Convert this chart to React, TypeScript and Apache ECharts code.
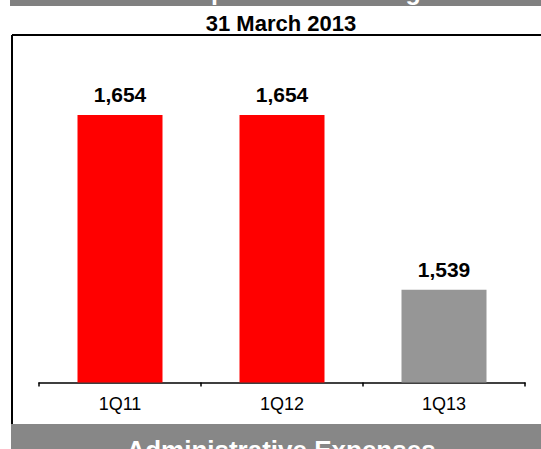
import React, { useEffect, useRef } from "react";
import * as echarts from "echarts";

const categories = ["1Q11", "1Q12", "1Q13"];
const values = [1654, 1654, 1539];
const barColors = ["#FF0000", "#FF0000", "#969696"];
const subtitle = "31 March 2013";
const topBannerText = "Staff Expenses excluding";
const bottomBannerText = "Administrative Expenses";
const yMin = 1478;
const yMax = 1700;

const FONT = "'Liberation Sans', Arial, sans-serif";

export default function App() {
  const ref = useRef<HTMLDivElement>(null);
  useEffect(() => {
    document.body.style.margin = "0";
    const chart = echarts.init(ref.current!, null, { renderer: "svg" });
    chart.setOption({
      animation: false,
      backgroundColor: "#ffffff",
      grid: { left: 39, right: 16, top: 45, bottom: 66.5, containLabel: false },
      xAxis: {
        type: "category",
        data: categories,
        boundaryGap: true,
        axisLine: { show: true, lineStyle: { color: "#000000", width: 1.5 } },
        axisTick: { show: true, length: 4, inside: false, lineStyle: { color: "#000000", width: 1.5 } },
        axisLabel: { color: "#000000", fontSize: 18, fontFamily: FONT, margin: 12 },
      },
      yAxis: {
        type: "value",
        min: yMin,
        max: yMax,
        show: false,
        splitLine: { show: false },
      },
      series: [
        {
          type: "bar",
          barWidth: 85,
          data: values.map((v, i) => ({ value: v, itemStyle: { color: barColors[i] } })),
          label: {
            show: true,
            position: "top",
            distance: 10,
            color: "#000000",
            fontSize: 21,
            fontWeight: "bold",
            fontFamily: FONT,
            formatter: (p: any) => p.value.toLocaleString("en-US"),
          },
        },
      ],
      graphic: [
        { type: "rect", shape: { x: 10, y: 0, width: 531, height: 6 }, style: { fill: "#808080" }, z: 10 },
        {
          type: "text",
          x: 118,
          y: 3,
          style: { text: topBannerText, fill: "#ffffff", font: `bold 25px ${FONT}`, verticalAlign: "bottom" },
          z: 11,
        },
        {
          type: "text",
          x: 281,
          y: 23,
          style: { text: subtitle, fill: "#000000", font: `bold 22px ${FONT}`, align: "center", verticalAlign: "middle" },
          z: 11,
        },
        { type: "line", shape: { x1: 12, y1: 35, x2: 541, y2: 35 }, style: { stroke: "#000000", lineWidth: 2 }, z: 10 },
        { type: "line", shape: { x1: 12, y1: 35, x2: 12, y2: 424 }, style: { stroke: "#000000", lineWidth: 2 }, z: 10 },
        { type: "rect", shape: { x: 11, y: 424, width: 530, height: 25 }, style: { fill: "#878787" }, z: 10 },
        {
          type: "text",
          x: 281,
          y: 437,
          style: { text: bottomBannerText, fill: "#ffffff", font: `bold 26px ${FONT}`, align: "center", verticalAlign: "top" },
          z: 11,
        },
      ],
    });
    return () => chart.dispose();
  }, []);
  return <div ref={ref} style={{ width: 541, height: 449 }} />;
}
